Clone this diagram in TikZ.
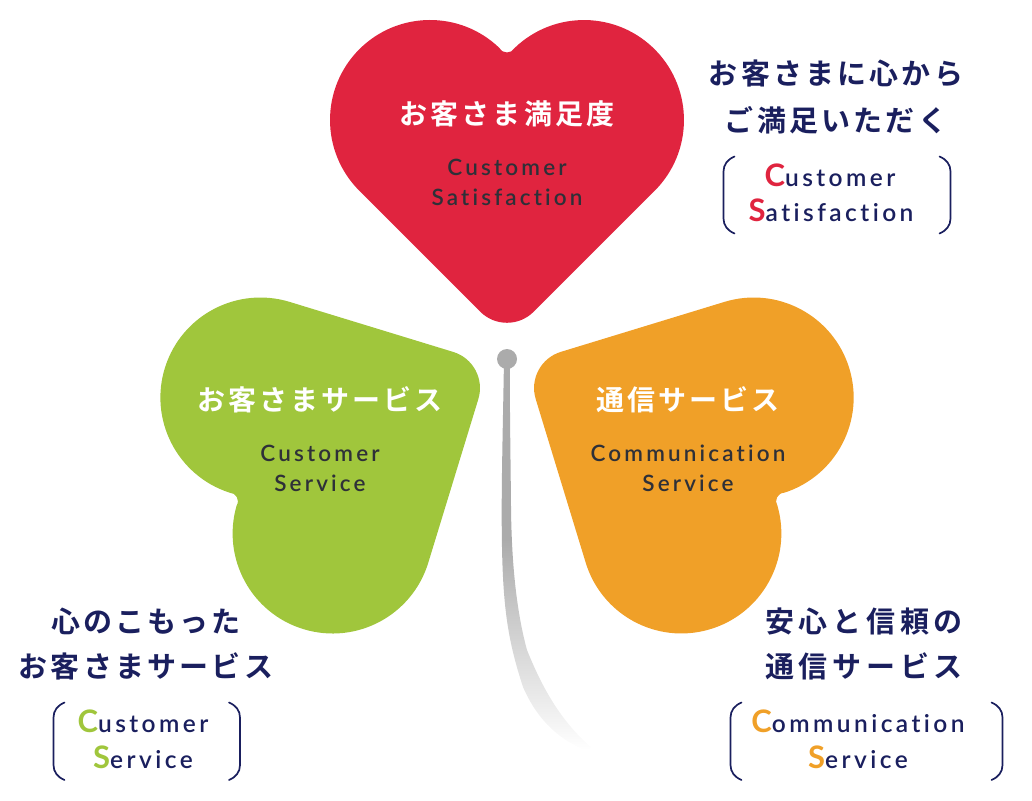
\documentclass[tikz,border=0pt]{standalone}
\usepackage{fontspec}
\usepackage{tikz}
\newfontfamily\jpfont[LetterSpace=11]{Noto Sans CJK JP Bold}
\newfontfamily\jpwidefont[LetterSpace=16.5]{Noto Sans CJK JP Bold}
\newfontfamily\enfont[LetterSpace=14,Ligatures=NoCommon]{Lato Semibold}
\newfontfamily\enboldfont[LetterSpace=11]{Lato Bold}
\definecolor{csred}{HTML}{E0243F}
\definecolor{csgreen}{HTML}{A0C63C}
\definecolor{csorange}{HTML}{F0A028}
\definecolor{csnavy}{HTML}{1A1F5E}
\definecolor{csdark}{HTML}{2E3038}
\definecolor{csstem}{HTML}{ABABAB}
\pgfdeclareverticalshading{stemfade}{100bp}{color(0bp)=(white); color(25bp)=(white); color(52bp)=(csstem); color(75bp)=(csstem); color(100bp)=(csstem)}
\newcommand{\capletter}[2]{{\color{#1}\enboldfont\fontsize{31}{31}\selectfont #2}}
\tikzset{
  heading/.style={inner sep=0pt,text=white,font=\jpfont\fontsize{28}{28}\selectfont},
  slogan/.style={inner sep=0pt,text=csnavy,font=\jpfont\fontsize{29}{29}\selectfont},
  widesloganb/.style={inner sep=0pt,text=csnavy,font=\jpwidefont\fontsize{29}{29}\selectfont},
  inheart/.style={inner sep=0pt,text=csdark,font=\enfont\fontsize{22.5}{22.5}\selectfont},
  outside/.style={inner sep=0pt,text=csnavy,font=\enfont\fontsize{24.5}{24.5}\selectfont},
  bracketline/.style={csnavy,line width=1.7pt,line cap=round}
}
\begin{document}
\begin{tikzpicture}[x=1pt,y=-1pt]
\useasboundingbox (0,0) rectangle (1032,800);
% the three hearts
\foreach \hx/\hy/\ang/\col in {507/120/0/csred,296.5/465.5/118/csgreen,717.5/465.5/-118/csorange}
  \fill[\col,shift={(\hx,\hy)},rotate=\ang] (0,-67.5) .. controls (3.5,-67.5) and (5.5,-69) .. (7.5,-71.9)
    arc[start angle=-134,end angle=45,radius=100] -- (26.7,191.7)
    arc[start angle=45,end angle=135,radius=37.8] -- (-147.7,70.7)
    arc[start angle=135,end angle=314,radius=100] .. controls (-5.5,-69) and (-3.5,-67.5) .. cycle;
% stem
\path[shading=stemfade] (504,359) .. controls (503,420) and (501.7,470) .. (501.7,512)
  .. controls (501.7,600) and (506,635) .. (523,687) .. controls (535,715) and (555,738) .. (585,750)
  -- (592,748) .. controls (565,725) and (545,695) .. (527,650) .. controls (516,610) and (511.5,560) .. (511,507)
  .. controls (510.5,450) and (509.5,400) .. (510,359) -- cycle;
\fill[csstem] (507,359) circle[radius=10];
% labels in the hearts
\node[heading] (redtitle) at (507,114) {お客さま満足度};
\node[inheart] (redline1) at (507,167) {Customer};
\node[inheart] (redline2) at (507,197) {Satisfaction};
\node[heading] (greentitle) at (320,400) {お客さまサービス};
\node[inheart] (greenline1) at (320,453) {Customer};
\node[inheart] (greenline2) at (320,483) {Service};
\node[heading] (orangetitle) at (688,400) {通信サービス};
\node[inheart] (orangeline1) at (688,453) {Communication};
\node[inheart] (orangeline2) at (688,483) {Service};
% slogans
\node[slogan] (redslogan1) at (836,73) {お客さまに心から};
\node[slogan] (redslogan2) at (836,120) {ご満足いただく};
\node[outside] (rednote1) at (830,175) {\capletter{csred}{C}ustomer};
\node[outside] (rednote2) at (831,210) {\capletter{csred}{S}atisfaction};
\node[slogan] (greenslogan1) at (146,621) {心のこもった};
\node[slogan] (greenslogan2) at (146,666) {お客さまサービス};
\node[outside] (greennote1) at (143,721) {\capletter{csgreen}{C}ustomer};
\node[outside] (greennote2) at (143,757) {\capletter{csgreen}{S}ervice};
\node[widesloganb] (orangeslogan1) at (864,621) {安心と信頼の};
\node[widesloganb] (orangeslogan2) at (864,666) {通信サービス};
\node[outside] (orangenote1) at (858,721) {\capletter{csorange}{C}ommunication};
\node[outside] (orangenote2) at (858,757) {\capletter{csorange}{S}ervice};
% brackets
\foreach \xl/\xr/\yt/\yb in {723.5/950.5/156.5/233.5,53.5/240/702.5/780,730.5/1002.5/702.5/780} {
  \draw[bracketline] (\xl+11,\yt) .. controls (\xl+4,\yt+3) and (\xl,\yt+8) .. (\xl,\yt+15) -- (\xl,\yb-15)
    .. controls (\xl,\yb-8) and (\xl+4,\yb-3) .. (\xl+11,\yb);
  \draw[bracketline] (\xr-11,\yt) .. controls (\xr-4,\yt+3) and (\xr,\yt+8) .. (\xr,\yt+15) -- (\xr,\yb-15)
    .. controls (\xr,\yb-8) and (\xr-4,\yb-3) .. (\xr-11,\yb);
}
\end{tikzpicture}
\end{document}
